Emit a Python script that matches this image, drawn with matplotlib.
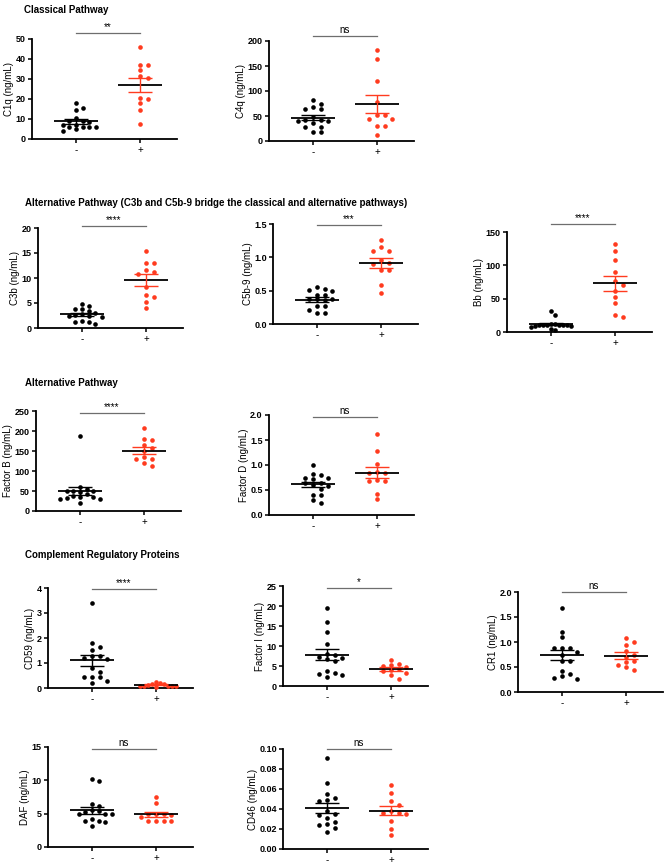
import matplotlib
matplotlib.use("Agg")
import matplotlib.pyplot as plt
import matplotlib.transforms as mtrans
import numpy as np

plt.rcParams['font.family'] = ['Liberation Sans', 'DejaVu Sans']

W, H = 668, 864
RED = '#ff3b1f'
GROUPS = ['-', '+']

# values (ng/mL), '-' group then '+' group
c1q_neg = [17.9, 15.7, 14.7, 10.4, 9.1, 8.8, 8.6, 7.1, 7.0, 6.0, 5.8, 5.8, 5.8, 4.8, 4.1]
c1q_pos = [46.0, 37.1, 36.8, 34.3, 31.5, 30.3, 20.7, 20.2, 17.9, 14.4, 7.5]
c4q_neg = [82.5, 75.0, 68.0, 65.0, 65.0, 47.5, 43.0, 42.0, 40.0, 40.0, 35.6, 27.7, 27.7, 18.5, 18.5]
c4q_pos = [183, 165, 121, 78, 52, 52, 44, 44, 31, 30, 12.5]
c3b_neg = [4.9, 4.5, 3.9, 3.8, 3.4, 3.0, 2.9, 2.6, 2.5, 2.4, 2.3, 1.5, 1.3, 1.3, 0.9]
c3b_pos = [15.5, 13.0, 13.0, 11.7, 11.2, 10.8, 8.2, 6.7, 6.2, 5.2, 4.0]
c5b9_neg = [0.55, 0.53, 0.51, 0.49, 0.44, 0.43, 0.38, 0.37, 0.37, 0.36, 0.27, 0.27, 0.21, 0.17, 0.16]
c5b9_pos = [1.26, 1.15, 1.10, 1.09, 0.96, 0.91, 0.90, 0.81, 0.81, 0.58, 0.47]
bb_neg = [32, 26, 12, 12, 11, 11, 11, 10, 10, 10, 9, 9, 7, 5, 3]
bb_pos = [132, 122, 108, 90, 76, 70, 62, 52, 44, 25, 23]
factorb_neg = [187.5, 60, 56, 50, 50, 50, 47.5, 41.7, 36.7, 35, 35, 32.5, 31, 31, 20]
factorb_pos = [207, 180, 178, 164, 158, 150, 135, 129, 129, 120, 113]
factord_neg = [1.0, 0.83, 0.80, 0.75, 0.75, 0.72, 0.64, 0.64, 0.61, 0.58, 0.52, 0.41, 0.41, 0.30, 0.25]
factord_pos = [1.62, 1.29, 1.03, 0.86, 0.84, 0.84, 0.70, 0.68, 0.68, 0.42, 0.32]
cd59_neg = [3.4, 1.8, 1.66, 1.54, 1.3, 1.3, 1.19, 1.16, 0.80, 0.63, 0.43, 0.43, 0.43, 0.30, 0.19]
cd59_pos = [0.25, 0.20, 0.15, 0.15, 0.12, 0.10, 0.10, 0.10, 0.08, 0.08, 0.05]
factori_neg = [19.4, 15.9, 13.6, 10.5, 8.0, 7.75, 7.2, 6.9, 6.7, 6.3, 3.75, 3.2, 3.0, 2.75, 2.3]
factori_pos = [6.5, 5.5, 5.2, 5.0, 4.8, 4.2, 4.0, 3.8, 3.2, 2.8, 1.8]
cr1_neg = [1.68, 1.2, 1.1, 0.88, 0.88, 0.88, 0.80, 0.74, 0.62, 0.62, 0.42, 0.36, 0.32, 0.28, 0.27]
cr1_pos = [1.08, 1.0, 0.95, 0.82, 0.75, 0.70, 0.62, 0.60, 0.55, 0.50, 0.45]
daf_neg = [10.2, 9.95, 6.5, 6.2, 5.6, 5.35, 5.2, 5.0, 4.95, 4.95, 4.2, 3.95, 3.85, 3.75, 3.1]
daf_pos = [7.45, 6.6, 4.95, 4.95, 4.9, 4.85, 4.5, 3.95, 3.95, 3.85, 3.85]
cd46_neg = [0.091, 0.066, 0.0555, 0.051, 0.0488, 0.0478, 0.038, 0.035, 0.034, 0.031, 0.0266, 0.0246, 0.024, 0.0206, 0.0166]
cd46_pos = [0.064, 0.056, 0.048, 0.044, 0.038, 0.036, 0.036, 0.035, 0.028, 0.020, 0.014]

# y ticks
t_c1q = [0, 10, 20, 30, 40, 50]
t_c4q = [0, 50, 100, 150, 200]
t_c3b = [0, 5, 10, 15, 20]
t_c5b9 = [0.0, 0.5, 1.0, 1.5]
t_bb = [0, 50, 100, 150]
t_fb = [0, 50, 100, 150, 200, 250]
t_fd = [0.0, 0.5, 1.0, 1.5, 2.0]
t_cd59 = [0, 1, 2, 3, 4]
t_fi = [0, 5, 10, 15, 20, 25]
t_cr1 = [0.0, 0.5, 1.0, 1.5, 2.0]
t_daf = [0, 5, 10, 15]
t_cd46 = [0.00, 0.02, 0.04, 0.06, 0.08, 0.10]

section_titles = ['Classical Pathway',
                  'Alternative Pathway (C3b and C5b-9 bridge the classical and alternative pathways)',
                  'Alternative Pathway',
                  'Complement Regulatory Proteins']

# (label, neg, pos, ticks, decimals, significance, axis left px, axis top px, sig line px above top)
panels = [
    ('C1q (ng/mL)', c1q_neg, c1q_pos, t_c1q, 0, '**', 32, 39, 6),
    ('C4q (ng/mL)', c4q_neg, c4q_pos, t_c4q, 0, 'ns', 269, 41, 5),
    ('C3b (ng/mL)', c3b_neg, c3b_pos, t_c3b, 0, '****', 38, 228, 2),
    ('C5b-9 (ng/mL)', c5b9_neg, c5b9_pos, t_c5b9, 1, '***', 273, 224, -1),
    ('Bb (ng/mL)', bb_neg, bb_pos, t_bb, 0, '****', 507, 232, 8),
    ('Factor B (ng/mL)', factorb_neg, factorb_pos, t_fb, 0, '****', 36, 411, -2),
    ('Factor D (ng/mL)', factord_neg, factord_pos, t_fd, 1, 'ns', 269, 415, -2),
    ('CD59 (ng/mL)', cd59_neg, cd59_pos, t_cd59, 0, '****', 48, 588, -1),
    ('Factor I (ng/mL)', factori_neg, factori_pos, t_fi, 0, '*', 283, 586, -2),
    ('CR1 (ng/mL)', cr1_neg, cr1_pos, t_cr1, 1, 'ns', 518, 592, 0),
    ('DAF (ng/mL)', daf_neg, daf_pos, t_daf, 0, 'ns', 48, 747, -2),
    ('CD46 (ng/mL)', cd46_neg, cd46_pos, t_cd46, 2, 'ns', 283, 749, 0),
]
title_pos = [(24, 10), (25, 203), (25, 383), (25, 555)]

AX_W, AX_H = 145, 100      # axis box in pixels
G0, GAP = 44, 64           # first group offset and spacing in pixels
SPREAD = 20                # widest swarm half-width in pixels


def swarm(vals, ppu, step=7.6, diam=4.6):
    # put each point in the nearest column where it does not overlap
    cols = {}
    out = []
    for v in vals:
        y = v * ppu
        for c in [0, 1, -1, 2, -2, 3, -3, 4, -4, 5, -5, 6, -6]:
            if all(abs(y - q) >= diam for q in cols.get(c, [])):
                cols.setdefault(c, []).append(y)
                out.append(c * step)
                break
    out = np.array(out, dtype=float)
    wid = np.abs(out).max()
    if wid > SPREAD:
        out = out * SPREAD / wid
    return out


fig = plt.figure(figsize=(W / 100, H / 100), dpi=100)

for txt, (x, y) in zip(section_titles, title_pos):
    fig.text(x / W, 1 - y / H, txt, fontsize=7.0, fontweight='bold', ha='left', va='center')

for label, neg, pos, ticks, dec, sig, left, top, off in panels:
    ax = fig.add_axes([left / W, 1 - (top + AX_H) / H, AX_W / W, AX_H / H])
    ymax = ticks[-1]
    ppu = AX_H / ymax
    for g, (vals, col) in enumerate([(neg, 'black'), (pos, RED)]):
        vals = np.array(vals, dtype=float)
        xs = g + swarm(vals, ppu) / GAP
        ax.scatter(xs, vals, s=11, color=col, linewidths=0, zorder=3, clip_on=False)
        m = vals.mean()
        se = vals.std(ddof=1) / np.sqrt(len(vals))
        ax.hlines(m, g - 0.34, g + 0.34, color='black', lw=1.3, zorder=4)
        ax.vlines(g, m - se, m + se, color=col, lw=1.0, zorder=4)
        ax.hlines([m - se, m + se], g - 0.19, g + 0.19, color=col, lw=1.0, zorder=4)

    ax.set_xlim(-G0 / GAP, (AX_W - G0) / GAP)
    ax.set_ylim(0, ymax)
    ax.set_yticks(ticks)
    ax.set_yticklabels([f'{t:.{dec}f}' for t in ticks], fontweight='bold')
    ax.set_xticks([0, 1])
    ax.set_xticklabels(GROUPS)
    ax.tick_params(axis='y', length=3, width=1.1, labelsize=6.5, pad=1.5)
    ax.tick_params(axis='x', length=3, width=1.1, labelsize=7, pad=1.5)
    ax.set_ylabel(label, fontsize=7, labelpad=1)
    for s in ['top', 'right']:
        ax.spines[s].set_visible(False)
    for s in ['left', 'bottom']:
        ax.spines[s].set_linewidth(1.3)

    # significance bar
    ya = 1 + off / AX_H
    tr = mtrans.blended_transform_factory(ax.transData, ax.transAxes)
    ax.plot([0, 1], [ya, ya], color='#6e6e6e', lw=0.9, transform=tr, clip_on=False)
    ax.text(0.5, ya + 3 / AX_H, sig, transform=tr, ha='center', va='baseline', fontsize=7)

fig.savefig('out.png', dpi=100)
